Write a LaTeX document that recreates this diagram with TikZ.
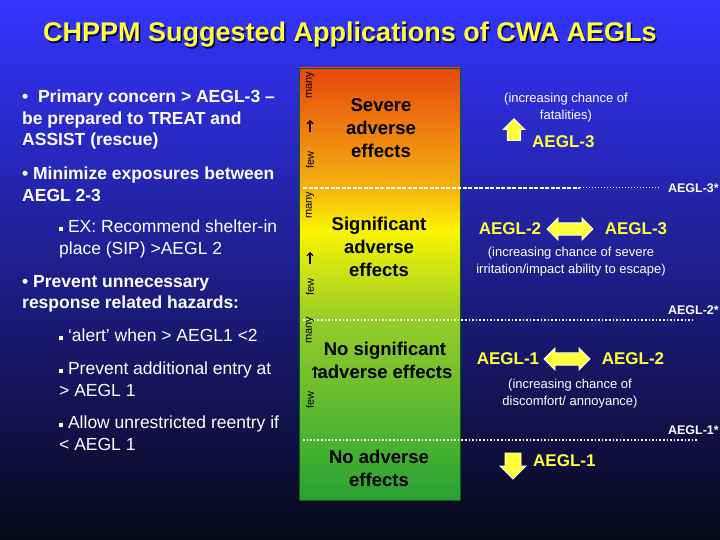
\documentclass[tikz,border=0pt]{standalone}
\usepackage{fontspec}
\setmainfont{Liberation Sans}
\usetikzlibrary{shapes.arrows,arrows.meta}
\definecolor{bgtop}{RGB}{52,52,255}
\definecolor{bgbot}{RGB}{8,8,24}
\definecolor{ttl}{RGB}{255,255,60}
\pgfdeclareverticalshading{barshade}{100bp}{
 rgb(0bp)=(0.16,0.63,0.2); rgb(25bp)=(0.16,0.63,0.2); rgb(32bp)=(0.3,0.7,0.2);
 rgb(45.8bp)=(0.59,0.8,0.16); rgb(56.2bp)=(0.98,0.96,0); rgb(61.1bp)=(0.96,0.7,0.06);
 rgb(75bp)=(0.91,0.28,0.05); rgb(100bp)=(0.91,0.28,0.05)}
\tikzset{
 lt/.style={text=white,font=\fontsize{17.5}{21.5}\selectfont\bfseries,anchor=north west,align=left,inner sep=0},
 ls/.style={text=white,font=\fontsize{17.5}{21.5}\selectfont,anchor=north west,align=left,inner sep=0},
 bt/.style={text=black,font=\fontsize{18.5}{23}\selectfont\bfseries,align=center,inner sep=0},
 vl/.style={text=black,font=\fontsize{11}{12}\selectfont,rotate=90,inner sep=0},
 par/.style={text=white,font=\fontsize{13}{17}\selectfont,align=center,inner sep=0},
 ag/.style={text=ttl,font=\fontsize{17}{18}\selectfont\bfseries,inner sep=0},
 st/.style={text=white,font=\fontsize{12.5}{14}\selectfont\bfseries,inner sep=0},
 sep/.style={white,line width=2pt,dash pattern=on 4pt off 1.5pt},
 yarr/.style={fill=ttl,draw=white,line width=0.8pt,minimum height=#1,inner sep=0},
 uparr/.style={-{Straight Barb[length=3pt,width=6pt]},line width=1.2pt,black},
}
\begin{document}
\begin{tikzpicture}[x=1pt,y=-1pt]
\shade[top color=bgtop,bottom color=bgbot] (0,0) rectangle (720,540);
\useasboundingbox (0,0) rectangle (720,540);
\node[text=black!70!blue,font=\fontsize{27}{29}\selectfont\bfseries] at (351.5,36.5) {CHPPM Suggested Applications of CWA AEGLs};
\node (title) [text=ttl,font=\fontsize{27}{29}\selectfont\bfseries] at (350,35) {CHPPM Suggested Applications of CWA AEGLs};
% bar
\shade[shading=barshade] (299,68) rectangle (460,500);
\draw[green!40!black,line width=0.5pt] (299,68) rectangle (460,500);
% separators
\coordinate (s3a) at (303,188); \coordinate (s3b) at (580,188); \coordinate (s3c) at (660,188);
\draw[sep] (s3a) -- (s3b);
\draw[white,line width=1pt,dotted] (s3b) -- (s3c);
\coordinate (s2a) at (303,320); \coordinate (s2b) at (694,320);
\draw[white,line width=1.6pt,dotted] (s2a) -- (s2b);
\coordinate (s1a) at (303,440); \coordinate (s1b) at (697,440);
\draw[white,line width=1.6pt,dotted] (s1a) -- (s1b);
\node (a3s) [st,anchor=east] at (719,188) {AEGL-3*};
\node (a2s) [st,anchor=east] at (719,310) {AEGL-2*};
\node (a1s) [st,anchor=east] at (719,430) {AEGL-1*};
% left text
\node (t1) [lt] at (22,90) {•\ \ Primary concern > AEGL-3 –\\be prepared to TREAT and\\ASSIST (rescue)};
\node (t2) [lt] at (22,167) {• Minimize exposures between\\AEGL 2-3};
\node (t3) [ls] at (59,220) {\rule[2pt]{4pt}{4pt} EX: Recommend shelter-in\\place (SIP) >AEGL 2};
\node (t4) [lt] at (22,275) {• Prevent unnecessary\\response related hazards:};
\node (t5) [ls] at (59,329) {\rule[2pt]{4pt}{4pt} ‘alert’ when > AEGL1 <2};
\node (t6) [ls] at (59,362) {\rule[2pt]{4pt}{4pt} Prevent additional entry at\\> AEGL 1};
\node (t7) [ls] at (59,416) {\rule[2pt]{4pt}{4pt} Allow unrestricted reentry if\\< AEGL 1};
% vertical labels
\foreach \m/\a/\f/\x [count=\i] in {85/126/160/310, 205/258/287/310, 330/372/400/315}{
 \node (m\i) [vl] at (310,\m) {many};
 \coordinate (rb\i) at (\x,\a+6); \coordinate (rt\i) at (\x,\a-6);
 \draw[uparr] (rb\i) -- (rt\i);
 \node (f\i) [vl] at (310,\f) {few};
}
% bar text
\node (b1) [bt] at (381,128) {Severe\\adverse\\effects};
\node (b2) [bt] at (379,247) {Significant\\adverse\\effects};
\node (b3) [bt] at (385,360) {No significant\\adverse effects};
\node (b4) [bt] at (379,468) {No adverse\\effects};
% right
\node (p3) [par] at (566,108) {(increasing chance of\\fatalities)};
\node (u3) [single arrow,yarr=22pt,minimum width=22pt,single arrow head extend=3pt,single arrow head indent=0pt,rotate=90] at (514,133) {\rule{0pt}{9pt}\rule{8pt}{0pt}};
\node (g3) [ag,anchor=west] at (532,142) {AEGL-3};
\node (g2l) [ag] at (510,229) {AEGL-2};
\node (g2r) [ag] at (636,229) {AEGL-3};
\node (d2) [double arrow,yarr=46pt,minimum width=22pt,double arrow head extend=3pt] at (570,229) {\rule{0pt}{7pt}\rule{10pt}{0pt}};
\node (p2) [par] at (571,262) {(increasing chance of severe\\irritation/impact ability to escape)};
\node (g1l) [ag] at (508,359) {AEGL-1};
\node (g1r) [ag] at (633,359) {AEGL-2};
\node (d1) [double arrow,yarr=46pt,minimum width=22pt,double arrow head extend=3pt] at (567,359) {\rule{0pt}{7pt}\rule{10pt}{0pt}};
\node (p1) [par] at (570,394) {(increasing chance of\\discomfort/ annoyance)};
\node (dn) [single arrow,yarr=26pt,minimum width=26pt,single arrow head extend=4pt,rotate=-90] at (513,462) {\rule{0pt}{12pt}\rule{8pt}{0pt}};
\node (g0) [ag,anchor=west] at (533,461) {AEGL-1};
\end{tikzpicture}
\end{document}
